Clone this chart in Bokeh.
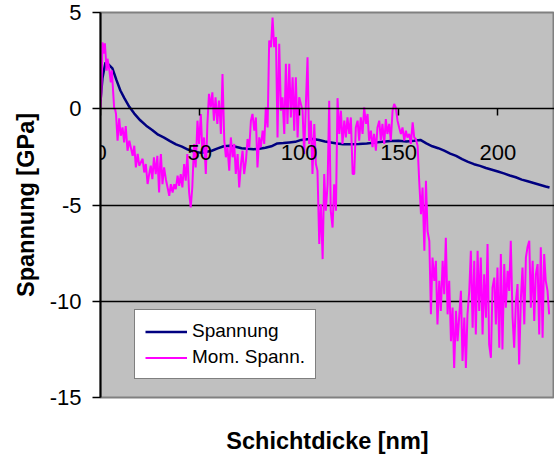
from bokeh.plotting import figure
from bokeh.models import LinearAxis, FixedTicker, Legend, LegendItem, Range1d
from bokeh.embed import file_html
from bokeh.resources import INLINE

# Spannung (navy, smooth)
span_x = [0, 1, 2.5, 4, 6, 8, 10, 12, 14.5, 17, 20, 23, 26, 29, 32, 35, 38, 41, 44, 47,
          50, 53, 56, 59, 62, 65, 68, 71, 74, 77, 80, 83, 86, 89, 92, 95, 98, 101, 104, 107,
          110, 113, 116, 119, 122, 126, 130, 134, 138, 142, 146, 150, 154, 158, 161, 164,
          167, 170, 173, 176, 179, 182, 185, 188, 191, 194, 197, 200, 203, 206, 209, 212,
          215, 218, 221, 224, 226]
span_y = [0.4, 1.6, 2.4, 2.3, 2.1, 1.5, 0.95, 0.55, 0.1, -0.25, -0.6, -0.88, -1.1, -1.35,
          -1.5, -1.68, -1.85, -1.97, -2.12, -2.22, -2.28, -2.25, -2.18, -2.06, -1.95, -1.92,
          -1.97, -2.05, -2.08, -2.1, -2.08, -2.03, -1.95, -1.8, -1.78, -1.75, -1.72, -1.62,
          -1.58, -1.57, -1.62, -1.7, -1.75, -1.8, -1.84, -1.85, -1.83, -1.8, -1.76, -1.72,
          -1.68, -1.66, -1.7, -1.66, -1.62, -1.8, -1.95, -2.05, -2.18, -2.33, -2.45, -2.62,
          -2.76, -2.88, -2.97, -3.08, -3.17, -3.26, -3.36, -3.47, -3.56, -3.68, -3.77, -3.86,
          -3.95, -4.04, -4.09]

# Mom. Spann. (magenta, noisy)
mom_x = [0.0, 0.5, 1.0, 1.8, 2.2, 3.1, 3.5, 4.4, 5.2, 5.7, 6.9, 7.3, 7.8, 8.6, 9.4, 10.2,
         11.1, 11.9, 12.7, 13.6, 14.5, 16.2, 17.0, 17.8, 18.7, 19.5, 21.2, 22.0, 22.8, 23.7,
         24.5, 25.3, 26.1, 26.9, 27.8, 28.6, 29.5, 30.0, 30.4, 31.2, 32.0, 32.9, 34.6, 35.4,
         36.3, 37.1, 37.9, 38.8, 39.6, 40.4, 41.2, 42.1, 42.9, 43.7, 44.6, 45.4, 46.2, 47.1,
         47.9, 48.8, 49.6, 50.5, 51.3, 52.1, 53.0, 53.8, 54.6, 55.5, 56.3, 57.1, 57.9, 58.8,
         59.6, 60.0, 60.6, 61.4, 62.3, 63.1, 63.9, 64.8, 65.6, 66.5, 67.3, 68.1, 69.0, 69.8,
         70.7, 71.5, 72.3, 73.2, 74.0, 74.9, 75.7, 76.5, 77.4, 78.2, 79.0, 79.9, 80.7, 81.6,
         82.4, 83.2, 84.1, 84.9, 85.8, 86.6, 87.4, 88.3, 89.1, 89.95, 90.8, 91.6, 92.5, 93.3,
         94.1, 95.0, 95.8, 96.7, 97.5, 98.3, 99.2, 100.0, 101.7, 102.5, 104.2, 105.0, 105.9,
         106.7, 107.6, 108.4, 109.2, 110.1, 110.9, 111.8, 112.6, 113.4, 114.3, 115.1, 115.9,
         116.8, 117.6, 118.5, 119.3, 120.2, 121.0, 121.8, 122.7, 123.5, 124.3, 125.2, 126.0,
         126.9, 127.7, 128.5, 129.4, 130.2, 131.0, 131.9, 132.7, 133.6, 134.4, 135.2, 136.1,
         136.9, 137.7, 138.6, 139.4, 140.3, 141.1, 141.9, 142.8, 143.6, 144.4, 145.3, 146.1,
         147.0, 147.8, 148.6, 149.5, 150.3, 151.2, 152.0, 152.9, 153.7, 154.5, 155.4, 156.2,
         157.1, 157.9, 158.7, 159.6, 160.4, 161.3, 162.1, 163.0, 163.8, 164.6, 165.5, 166.3,
         167.1, 168.0, 168.8, 169.6, 170.5, 171.3, 172.2, 173.0, 173.8, 174.7, 175.5, 176.4,
         177.2, 178.0, 178.9, 179.7, 180.5, 181.4, 182.2, 183.1, 183.9, 184.7, 185.6, 186.4,
         187.3, 188.1, 188.9, 189.8, 190.6, 191.4, 192.3, 193.1, 194.0, 194.8, 195.6, 196.5,
         197.3, 198.2, 199.0, 199.8, 200.7, 201.5, 202.3, 203.2, 204.0, 204.9, 205.7, 206.5,
         207.4, 208.2, 209.1, 209.9, 210.7, 211.6, 212.4, 213.3, 214.1, 214.9, 215.8, 216.6,
         217.5, 218.3, 219.1, 220.0, 220.8, 221.6, 222.5, 223.3, 224.1, 225.0, 225.8]
mom_y = [0.0, 1.0, 3.45, 2.87, 3.4, 1.98, 2.6, 2.05, 1.37, 2.0, -0.01, 0.0, -0.26, -1.66,
         -0.5, -1.4, -0.97, -1.75, -0.9, -2.18, -1.66, -2.44, -1.92, -3.05, -2.35, -2.96,
         -2.6, -3.31, -2.87, -3.91, -3.4, -2.96, -3.66, -2.52, -3.4, -2.44, -4.35, -2.87,
         -2.35, -3.92, -3.05, -3.66, -4.52, -3.92, -4.35, -3.92, -4.18, -3.48, -4.0, -3.4,
         -4.09, -2.87, -3.74, -2.35, -4.35, -5.13, -4.09, -1.83, -3.05, -0.62, -1.83, -0.27,
         -2.35, -1.49, -3.39, -0.79, 0.77, 0.07, 0.85, -0.62, 0.6, -0.79, 0.42, -0.1, -1.31,
         1.81, -1.66, -2.52, -2.0, -3.22, -1.49, -2.52, -1.83, -3.39, -2.35, -4.09, -2.87,
         -2.18, -3.39, -2.7, -1.57, -2.0, -0.62, -0.27, -1.14, -0.45, -3.05, -1.49, -2.0,
         -1.14, -1.83, 0.07, -0.97, 3.54, 3.2, 4.74, 3.2, 3.72, -1.49, 3.37, -0.1, 0.6, -1.31,
         2.33, -0.79, 2.33, -0.45, 1.64, -1.14, 1.64, -1.49, 0.6, -0.1, -2.35, 2.68, -1.83,
         -0.62, -3.39, -0.79, -2.87, -3.22, -7.03, -4.96, -7.81, -3.39, -5.3, -3.92, 0.42,
         -5.3, -6.17, -3.92, -5.3, 0.55, -1.31, -0.1, -1.83, -0.62, -1.49, -0.45, -1.31,
         -0.45, -3.39, -3.39, -0.97, -0.62, -1.66, -0.45, -1.31, 0.07, -0.79, -0.27, -1.66,
         -1.14, -2.0, -1.31, -2.18, -0.97, -0.62, -1.66, -0.79, -1.83, -0.54, -1.31, -0.79,
         -1.66, -0.1, 0.25, 0.07, -0.62, -0.97, -1.31, -0.97, -1.66, -1.14, -1.49, -1.31,
         -1.83, -0.71, -1.49, -1.57, -1.92, -3.74, -5.48, -4.09, -7.38, -3.74, -6.35, -6.87,
         -10.68, -7.73, -8.94, -7.9, -11.2, -8.94, -10.5, -7.9, -9.64, -6.7, -10.68, -8.94,
         -12.07, -10.33, -13.46, -10.5, -12.07, -10.85, -9.46, -13.1, -10.85, -13.46, -10.68,
         -9.46, -7.38, -11.37, -7.9, -11.72, -7.38, -10.5, -7.73, -11.72, -8.6, -10.85, -7.03,
         -12.24, -12.94, -9.29, -8.77, -11.2, -8.25, -12.41, -7.55, -12.5, -8.07, -10.33,
         -8.42, -9.46, -6.86, -10.85, -12.41, -9.98, -9.11, -13.28, -9.81, -8.25, -11.2,
         -7.73, -7.2, -6.86, -10.33, -7.9, -11.02, -8.6, -8.07, -11.72, -7.2, -11.9, -7.55,
         -8.94, -9.46, -10.68]

x_ticks = [0, 50, 100, 150, 200]
y_ticks = [-15, -10, -5, 0, 5]
y_tick_labels = {-15: "-15", -10: "-10", -5: "-5", 0: "0", 5: "5"}

FONT = "Liberation Sans"

p = figure(frame_width=454, frame_height=385,
           x_range=Range1d(0, 228.5), y_range=Range1d(-15, 5),
           output_backend="svg", toolbar_location=None,
           min_border_left=100, min_border_right=0, min_border_top=12, min_border_bottom=60,
           background_fill_color="#C0C0C0", border_fill_color="white")
p.outline_line_color = "#808080"
p.outline_line_width = 2

# y axis
ya = p.yaxis[0]
ya.ticker = FixedTicker(ticks=y_ticks)
ya.major_label_overrides = y_tick_labels
ya.major_tick_out = 8
ya.major_tick_in = 0
ya.minor_tick_out = 0
ya.minor_tick_in = 0
ya.axis_line_color = "black"
ya.axis_line_width = 2
ya.major_tick_line_color = "black"
ya.major_tick_line_width = 1.5
ya.major_label_text_font = FONT
ya.major_label_text_font_size = "22px"
ya.major_label_text_color = "black"
ya.major_label_standoff = 11
ya.axis_label = "Spannung [GPa]"
ya.axis_label_text_font = FONT
ya.axis_label_text_font_size = "23.5px"
ya.axis_label_text_font_style = "bold"
ya.axis_label_text_color = "black"
ya.axis_label_standoff = 8

# bottom axis: only the title
xa = p.xaxis[0]
xa.ticker = FixedTicker(ticks=[])
xa.axis_line_color = None
xa.major_tick_out = 0
xa.major_tick_in = 0
xa.minor_tick_out = 0
xa.minor_tick_in = 0
xa.axis_label = "Schichtdicke [nm]"
xa.axis_label_text_font = FONT
xa.axis_label_text_font_size = "23.5px"
xa.axis_label_text_font_style = "bold"
xa.axis_label_text_color = "black"
xa.axis_label_standoff = 30

# x axis crossing at y = 0
za = LinearAxis(fixed_location=0, ticker=FixedTicker(ticks=x_ticks),
                major_tick_out=7, major_tick_in=0, minor_tick_out=0, minor_tick_in=0,
                axis_line_color="black", axis_line_width=1.5,
                major_tick_line_color="black", major_tick_line_width=1.5,
                major_label_standoff=29, major_label_text_font=FONT,
                major_label_text_font_size="22px", major_label_text_color="black")
p.add_layout(za, "below")

p.xgrid.visible = False
p.ygrid.ticker = FixedTicker(ticks=[-10, -5])
p.ygrid.grid_line_color = "black"
p.ygrid.grid_line_width = 1.5

r1 = p.line(span_x, span_y, line_color="#000080", line_width=2.5)
r2 = p.line(mom_x, mom_y, line_color="#FF00FF", line_width=2)

legend = Legend(items=[LegendItem(label="Spannung", renderers=[r1]),
                       LegendItem(label="Mom. Spann.", renderers=[r2])],
                location=(34, 18), margin=0, padding=10, spacing=4,
                glyph_width=42, glyph_height=21, label_height=21, label_standoff=5,
                label_text_font=FONT, label_text_font_size="19px", label_text_color="black",
                border_line_color="black", border_line_width=1.5,
                background_fill_color="white", background_fill_alpha=1.0)
p.add_layout(legend)

open("out.html", "w").write(file_html(p, INLINE))
